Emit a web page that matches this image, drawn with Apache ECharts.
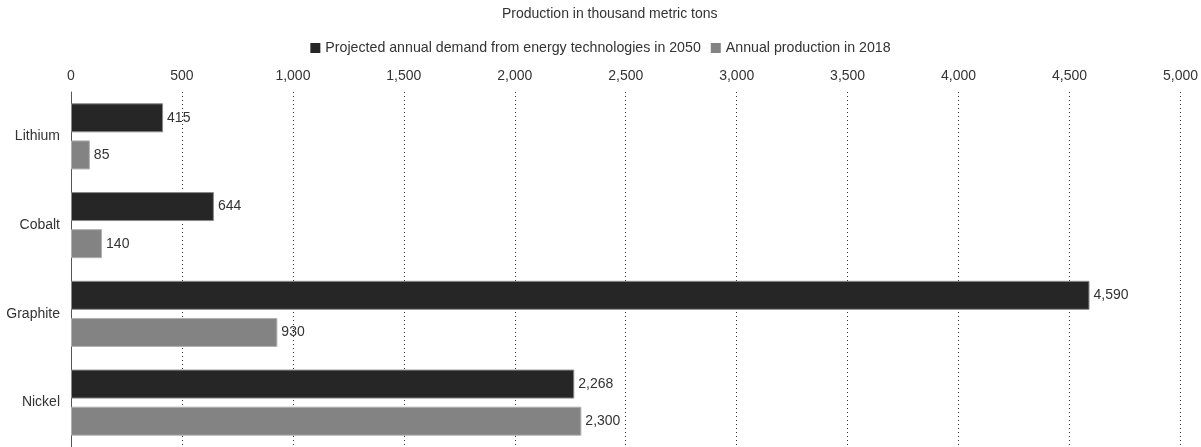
<!DOCTYPE html>
<html>
<head>
<meta charset="utf-8">
<script src="https://cdn.jsdelivr.net/npm/echarts@6/dist/echarts.min.js"></script>
<style>
html,body{margin:0;padding:0;background:#fff;}
#c{width:1201px;height:447px;}
</style>
</head>
<body>
<div id="c"></div>
<script>
const categories = ['Lithium', 'Cobalt', 'Graphite', 'Nickel'];
const demand2050 = [415, 644, 4590, 2268];
const production2018 = [85, 140, 930, 2300];
const seriesNames = ['Projected annual demand from energy technologies in 2050', 'Annual production in 2018'];
const titleText = 'Production in thousand metric tons';

const chart = echarts.init(document.getElementById('c'), null, {renderer: 'canvas'});
const font = 'Liberation Sans, Arial, sans-serif';
const fmt = v => v.toLocaleString('en-US');
chart.setOption({
  animation: false,
  backgroundColor: '#fff',
  textStyle: {fontFamily: font},
  title: {
    text: titleText,
    left: 497,
    top: 2,
    textStyle: {fontSize: 14, fontWeight: 'normal', color: '#333', fontFamily: font}
  },
  legend: {
    top: 36,
    left: 'center',
    itemWidth: 10,
    itemHeight: 10,
    itemGap: 10,
    icon: 'rect',
    itemStyle: {borderWidth: 0},
    textStyle: {fontSize: 14.2, color: '#333', fontFamily: font},
    data: seriesNames
  },
  grid: {left: 71, right: 18, top: 92, bottom: 0, containLabel: false},
  xAxis: {
    type: 'value',
    position: 'top',
    min: 0,
    max: 5000,
    interval: 500,
    axisLine: {show: false},
    axisTick: {show: false},
    axisLabel: {fontSize: 14, color: '#333', margin: 9, formatter: v => fmt(v), fontFamily: font},
    splitLine: {show: true, lineStyle: {type: [1, 3], color: '#333', width: 1}}
  },
  yAxis: {
    type: 'category',
    data: categories,
    inverse: true,
    axisLine: {show: true, lineStyle: {color: '#555', width: 1}},
    axisTick: {show: false},
    axisLabel: {fontSize: 14, color: '#333', margin: 11, fontFamily: font},
    splitLine: {show: false}
  },
  series: [
    {
      name: seriesNames[0],
      type: 'bar',
      data: demand2050,
      barWidth: 29,
      barGap: '28%',
      itemStyle: {color: '#262626', borderColor: '#8a8a8a', borderWidth: 1},
      label: {show: true, position: 'right', distance: 4, fontSize: 14, color: '#333', formatter: p => fmt(p.value), fontFamily: font}
    },
    {
      name: seriesNames[1],
      type: 'bar',
      data: production2018,
      barWidth: 29,
      barGap: '28%',
      itemStyle: {color: '#838383', borderColor: '#b0b0b0', borderWidth: 1},
      label: {show: true, position: 'right', distance: 4, fontSize: 14, color: '#333', formatter: p => fmt(p.value), fontFamily: font}
    }
  ]
});
</script>
</body>
</html>
